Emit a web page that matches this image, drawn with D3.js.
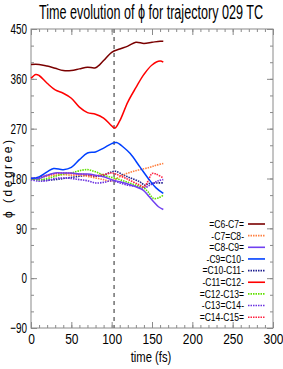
<!DOCTYPE html>
<meta charset="utf-8">
<script src="https://d3js.org/d3.v7.min.js"></script>
<style>
  body { margin: 0; background: #fff; }
  text { font-family: "Liberation Sans", Arial, sans-serif; }
</style>
<div id="graph"></div>
<script>
// series names (legend order) and colours
var names = ["=C6-C7=", "-C7=C8-", "=C8-C9=", "-C9=C10-", "=C10-C11-", "-C11=C12-", "=C12-C13=", "-C13=C14-", "=C14-C15="];
var colors = ["#7a0000", "#ff8040", "#7040f0", "#0040ff", "#202090", "#ff0000", "#60e000", "#6a30e0", "#ff2040"];
var dotted = [false, true, false, false, true, false, true, true, true];

// time (fs) and phi (degree)
var t1 = [0, 10, 20, 30, 40, 50, 60, 70, 80, 90, 100, 110, 120, 130, 140, 150, 160, 164];
var c6c7 = [386, 386, 383, 379, 375, 375, 378, 381, 380, 393, 408, 414, 419, 426, 424, 426, 428, 428];

var t2 = [0, 6, 10, 20, 30, 40, 50, 60, 70, 80, 90, 100, 104, 110, 120, 130, 140, 150, 160, 164];
var c11c12 = [361, 368, 366, 352, 340, 334, 325, 309, 299, 296, 289, 275, 271, 284, 318, 344, 368, 385, 392, 390];

var t3 = [0, 10, 20, 28, 40, 50, 60, 70, 80, 90, 100, 106, 115, 123, 135, 147, 155, 164];
var c9c10 = [180, 183, 192, 198, 196, 200, 214, 226, 228, 235, 243, 245, 236, 225, 201, 177, 163, 153];

var t4 = [0, 10, 20, 30, 40, 50, 60, 70, 80, 90, 98, 106, 115, 125, 135, 147, 155, 164];
var c7c8 = [180, 181, 184, 186, 187, 186, 186, 184, 181, 178, 175, 180, 187, 192, 196, 200, 204, 207];

var t5 = [0, 10, 20, 30, 40, 50, 60, 70, 80, 90, 100, 105, 115, 125, 135, 141, 147, 155, 164];
var c10c11 = [180, 178, 177, 178, 180, 182, 184, 186, 184, 186, 192, 193, 186, 180, 174, 168, 171, 172, 172];

var t6 = [0, 10, 20, 30, 40, 50, 60, 70, 80, 90, 100, 110, 120, 130, 140, 145, 152, 158, 164];
var c12c13 = [180, 178, 180, 184, 188, 190, 194, 196, 192, 186, 182, 178, 173, 168, 163, 156, 144, 145, 150];

var t7 = [0, 10, 20, 30, 40, 50, 60, 70, 80, 90, 100, 110, 120, 130, 140, 150, 158, 164];
var c13c14 = [178, 175, 176, 180, 181, 180, 178, 176, 172, 173, 176, 172, 168, 166, 163, 170, 176, 178];

var t8 = [0, 10, 20, 30, 40, 50, 60, 70, 80, 90, 100, 105, 115, 125, 135, 140, 145, 150, 155, 164];
var c14c15 = [180, 182, 186, 189, 190, 189, 188, 187, 185, 187, 190, 188, 182, 175, 168, 165, 175, 189, 188, 181];

var t9 = [0, 10, 20, 30, 40, 50, 60, 70, 80, 90, 100, 110, 120, 130, 139, 146, 152, 158, 164];
var c8c9 = [181, 180, 186, 190, 190, 190, 188, 188, 186, 183, 178, 174, 170, 165, 159, 148, 138, 129, 124];

var markTime = 103;
var xTicks = [0, 50, 100, 150, 200, 250, 300];
var yTicks = [-90, 0, 90, 180, 270, 360, 450];

// pair the arrays up, drawn so the solid reds/blues sit on top like the picture
var series = [
  {i: 4, t: t5, v: c10c11},
  {i: 1, t: t4, v: c7c8},
  {i: 7, t: t7, v: c13c14},
  {i: 6, t: t6, v: c12c13},
  {i: 8, t: t8, v: c14c15},
  {i: 2, t: t9, v: c8c9},
  {i: 3, t: t3, v: c9c10},
  {i: 5, t: t2, v: c11c12},
  {i: 0, t: t1, v: c6c7}
];

var W = 283, H = 369;
var pLeft = 31, pRight = 273, pTop = 29, pBottom = 328;

var svg = d3.select("#graph").append("svg")
  .attr("width", W)
  .attr("height", H);

var x = d3.scaleLinear().domain([0, 300]).range([pLeft, pRight]);
var y = d3.scaleLinear().domain([-90, 450]).range([pBottom, pTop]);

var grey = "#8a8a8a";

// squeeze text horizontally to mimic the narrow font of the original
function narrow(sel, f) {
  sel.each(function () {
    var len = this.getComputedTextLength();
    d3.select(this).attr("textLength", len * f).attr("lengthAdjust", "spacingAndGlyphs");
  });
}

function styleAxis(g, f) {
  g.select(".domain").remove();
  g.selectAll("line").attr("stroke", grey);
  g.selectAll("text").attr("font-size", "15px").attr("fill", "#000").call(narrow, f || 0.8);
}

// minor ticks
svg.append("g").attr("transform", "translate(0," + pBottom + ")")
  .call(d3.axisBottom(x).tickValues(d3.range(0, 301, 10)).tickSize(-3).tickFormat(""))
  .call(styleAxis);
svg.append("g").attr("transform", "translate(0," + pTop + ")")
  .call(d3.axisTop(x).tickValues(d3.range(0, 301, 10)).tickSize(-3).tickFormat(""))
  .call(styleAxis);
svg.append("g").attr("transform", "translate(" + pLeft + ",0)")
  .call(d3.axisLeft(y).tickValues(d3.range(-90, 451, 30)).tickSize(-3).tickFormat(""))
  .call(styleAxis);
svg.append("g").attr("transform", "translate(" + pRight + ",0)")
  .call(d3.axisRight(y).tickValues(d3.range(-90, 451, 30)).tickSize(-3).tickFormat(""))
  .call(styleAxis);

// major ticks + labels
svg.append("g").attr("transform", "translate(0," + pBottom + ")")
  .call(d3.axisBottom(x).tickValues(xTicks).tickSize(-6).tickPadding(5).tickFormat(d3.format("d")))
  .call(styleAxis, 0.8);
svg.append("g").attr("transform", "translate(0," + pTop + ")")
  .call(d3.axisTop(x).tickValues(xTicks).tickSize(-6).tickFormat(""))
  .call(styleAxis);
svg.append("g").attr("transform", "translate(" + pLeft + ",0)")
  .call(d3.axisLeft(y).tickValues(yTicks).tickSize(-6).tickPadding(4).tickFormat(d3.format("d")))
  .call(styleAxis, 0.66);
svg.append("g").attr("transform", "translate(" + pRight + ",0)")
  .call(d3.axisRight(y).tickValues(yTicks).tickSize(-6).tickFormat(""))
  .call(styleAxis);

// frame
svg.append("rect")
  .attr("x", pLeft).attr("y", pTop)
  .attr("width", pRight - pLeft).attr("height", pBottom - pTop)
  .attr("fill", "none").attr("stroke", grey).attr("stroke-width", 1);

// dashed marker line
svg.append("line")
  .attr("x1", x(markTime)).attr("x2", x(markTime))
  .attr("y1", y(450)).attr("y2", y(-90))
  .attr("stroke", "#707070").attr("stroke-width", 1.5)
  .attr("stroke-dasharray", "4,4");

var line = d3.line()
  .x(function (d) { return x(d[0]); })
  .y(function (d) { return y(d[1]); })
  .curve(d3.curveCatmullRom);

series.forEach(function (s) {
  svg.append("path")
    .datum(d3.zip(s.t, s.v))
    .attr("d", line)
    .attr("fill", "none")
    .attr("stroke", colors[s.i])
    .attr("stroke-width", dotted[s.i] ? 1.6 : 1.5)
    .attr("stroke-dasharray", dotted[s.i] ? "1.5,1" : null);
});

// legend
var legend = svg.append("g");
names.forEach(function (n, i) {
  var ly = 224 + i * 11.65;
  legend.append("text")
    .attr("x", 244).attr("y", ly).attr("dy", "0.35em")
    .attr("text-anchor", "end")
    .attr("font-size", "11px")
    .text(n)
    .call(narrow, 0.78);
  legend.append("line")
    .attr("x1", 248).attr("x2", 265)
    .attr("y1", ly).attr("y2", ly)
    .attr("stroke", colors[i])
    .attr("stroke-width", 1.6)
    .attr("stroke-dasharray", dotted[i] ? "1.5,1" : null);
});

// titles
svg.append("text")
  .attr("x", 151).attr("y", 19)
  .attr("text-anchor", "middle")
  .attr("font-size", "20px")
  .attr("textLength", 224)
  .attr("lengthAdjust", "spacingAndGlyphs")
  .text("Time evolution of ϕ for trajectory 029 TC");

svg.append("text")
  .attr("x", 151).attr("y", 362)
  .attr("text-anchor", "middle")
  .attr("font-size", "15px")
  .text("time (fs)")
  .call(narrow, 0.75);

svg.append("text")
  .attr("transform", "translate(12,179) rotate(-90)")
  .attr("text-anchor", "middle")
  .attr("font-size", "12px")
  .attr("textLength", 78)
  .attr("lengthAdjust", "spacing")
  .text("ϕ (degree)");
</script>
